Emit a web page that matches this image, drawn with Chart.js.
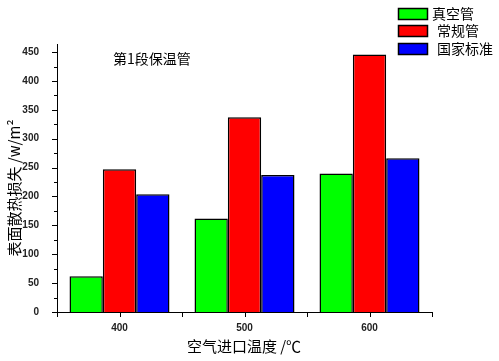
<!DOCTYPE html>
<html>
<head>
<meta charset="utf-8">
<script src="https://cdn.jsdelivr.net/npm/chart.js@4"></script>
<style>
  body { margin: 0; background: #fff; }
  canvas { display: block; }
</style>
</head>
<body>
<canvas id="chart" width="499" height="361"></canvas>
<script>
// data
const categories = ['400', '500', '600']
const seriesNames = ['真空管', '常规管', '国家标准']
const vacuumPipe = [62, 162, 240]
const normalPipe = [247, 337, 446]
const nationalStd = [204, 237, 266]
const yTickValues = [0, 50, 100, 150, 200, 250, 300, 350, 400, 450]
const colors = ['#00ff00', '#ff0000', '#0000ff']

const cjk = '"Noto Sans CJK SC", "Noto Sans", sans-serif'
const tickFont = '"Liberation Sans", Arial, sans-serif'

// tick marks, legend and the extra texts
const decor = {
  id: 'decor',
  afterDraw(chart) {
    const ctx = chart.ctx
    const x = chart.scales.x
    const y = chart.scales.y
    ctx.save()
    ctx.strokeStyle = '#000'
    ctx.lineWidth = 1
    // y ticks, major every 50, minor every 25
    for (let v = 0; v <= y.max; v += 25) {
      const py = Math.round(y.getPixelForValue(v)) + 0.5
      const len = v % 50 === 0 ? 5 : 3
      ctx.beginPath()
      ctx.moveTo(y.right - len, py)
      ctx.lineTo(y.right, py)
      ctx.stroke()
    }
    // x ticks at category centres and between them
    const step = (x.right - x.left) / categories.length
    for (let i = 0; i <= categories.length * 2; i++) {
      const px = Math.round(x.left + (i * step) / 2) + 0.5
      ctx.beginPath()
      ctx.moveTo(px, x.top)
      ctx.lineTo(px, x.top + 5)
      ctx.stroke()
    }

    // legend top right
    const boxTop = [8, 25, 43]
    const textX = [432, 437, 437]
    chart.data.datasets.forEach((ds, i) => {
      ctx.fillStyle = ds.backgroundColor
      ctx.fillRect(398.5, boxTop[i] + 0.5, 29, 11)
      ctx.lineWidth = 1.5
      ctx.strokeRect(398.5, boxTop[i] + 0.5, 29, 11)
      ctx.fillStyle = '#000'
      ctx.font = '14px ' + cjk
      ctx.textAlign = 'left'
      ctx.textBaseline = 'middle'
      ctx.fillText(ds.label, textX[i], boxTop[i] + 6)
    })

    // note inside the plot
    ctx.font = '14px ' + cjk
    ctx.textAlign = 'left'
    ctx.textBaseline = 'middle'
    ctx.fillText('第1段保温管', 113, 59)

    // axis titles
    ctx.font = '15px ' + cjk
    ctx.textAlign = 'center'
    ctx.fillText('空气进口温度 /℃', 244, 346)
    ctx.save()
    ctx.translate(14, 188)
    ctx.rotate(-Math.PI / 2)
    ctx.font = '15px ' + cjk
    ctx.fillText('表面散热损失 /w/m²', 0, 0)
    ctx.restore()
    ctx.restore()
  }
}

new Chart(document.getElementById('chart'), {
  type: 'bar',
  data: {
    labels: categories,
    datasets: [
      { label: seriesNames[0], data: vacuumPipe, backgroundColor: colors[0] },
      { label: seriesNames[1], data: normalPipe, backgroundColor: colors[1] },
      { label: seriesNames[2], data: nationalStd, backgroundColor: colors[2] }
    ].map(d => Object.assign(d, {
      borderColor: '#000',
      borderWidth: 1.5,
      borderSkipped: 'bottom',
      categoryPercentage: 0.8,
      barPercentage: 1.0
    }))
  },
  options: {
    responsive: false,
    animation: false,
    layout: { padding: { top: 44, right: 67, left: 0, bottom: 0 } },
    plugins: {
      legend: { display: false },
      tooltip: { enabled: false }
    },
    scales: {
      x: {
        grid: { display: false },
        border: { display: true, color: '#000', width: 1 },
        ticks: {
          color: '#222',
          padding: 2,
          font: { family: tickFont, size: 10, weight: 'bold' }
        },
        afterFit(s) { s.height = 49 }
      },
      y: {
        min: 0,
        max: 464,
        afterBuildTicks(s) { s.ticks = yTickValues.map(v => ({ value: v })) },
        grid: { display: false },
        border: { display: true, color: '#000', width: 1 },
        ticks: {
          color: '#222',
          padding: 10,
          font: { family: tickFont, size: 10, weight: 'bold' }
        },
        afterFit(s) { s.width = 57 }
      }
    }
  },
  plugins: [decor]
})
</script>
</body>
</html>
